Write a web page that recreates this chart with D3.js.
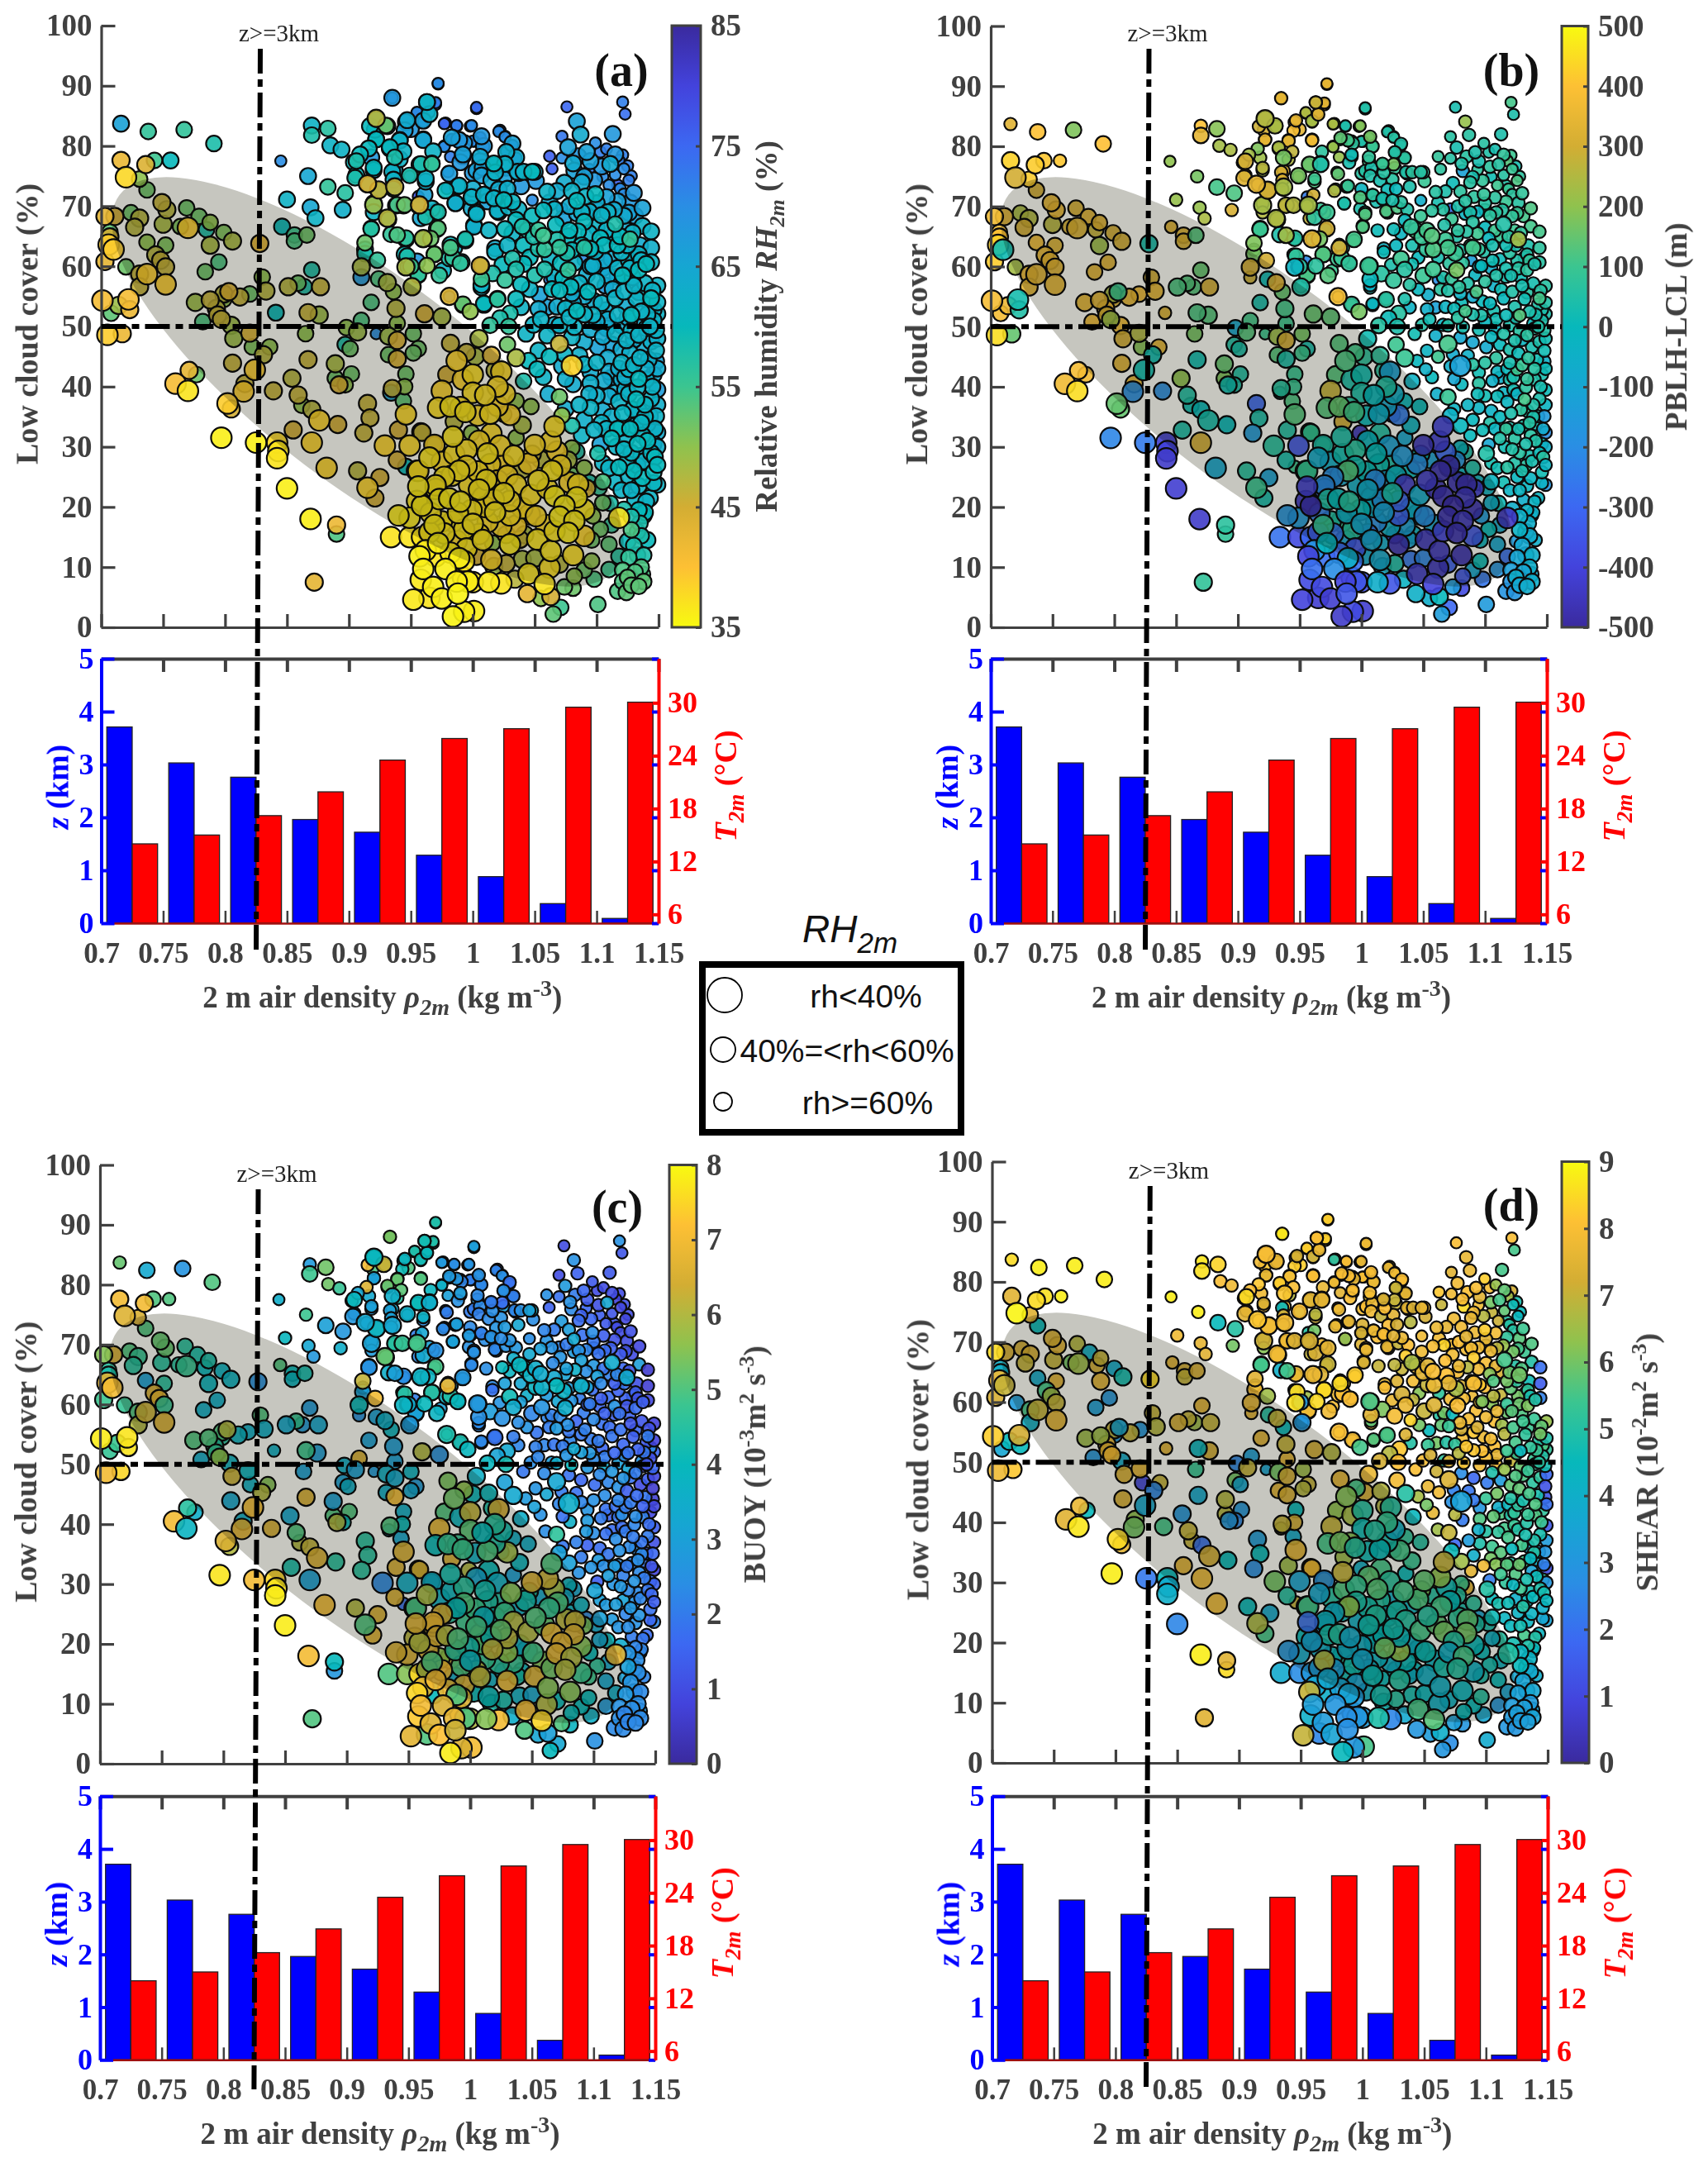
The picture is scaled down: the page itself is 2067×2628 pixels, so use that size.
<!DOCTYPE html>
<html><head><meta charset="utf-8">
<script src="https://cdn.jsdelivr.net/npm/d3@7/dist/d3.min.js"></script>
<style>body{margin:0;background:#fff}svg{display:block}</style>
</head><body><svg id="c" width="2067" height="2628"></svg>
<script>
// every row: rho2m, low cloud cover, RH, PBLH-LCL, BUOY, SHEAR
const leftCluster=[
[.716,83.7,66,330,5.2,8.5],[.738,82.4,56,400,3.3,8.8],[.767,82.7,56,180,2.6,8.8],[.791,80.4,58,400,5,8.8],[.716,77.6,42,430,7,7.5],[.736,76.9,44,420,7,8.5],[.743,77.6,55,410,5,8.6],[.756,77.6,60,410,5,8.8],[.72,74.8,38,300,6.6,8.9],[.731,74.5,50,420,6.5,7.5],[.737,72.7,52,300,5,4.5],[.749,70.6,46,340,5.2,7.3],[.753,69.4,47,350,5.2,7.5],[.724,68.9,52,240,5,7.2],[.703,68.3,43,370,5.5,8.5],[.711,68.3,45,330,6.5,7.3],[.731,68,47,250,4.7,7.3],[.727,66.5,47,300,4.5,7],[.769,69.7,52,310,4.5,6.8],[.779,68.3,52,330,4.3,4],[.788,67.3,50,330,4.3,7],[.75,67,48,260,4.5,7],[.764,66.6,51,310,4.5,6],[.77,66.4,39,320,4.7,6.5],[.785,66.1,58,280,3.9,7.2],[.799,65.6,51,300,3.7,3.8],[.806,64.2,48,300,3.7,4.7],[.707,65.7,53,370,4.5,4],[.707,64.9,45,400,4.3,4],[.706,63.6,39,430,6.7,8],[.71,62.8,39,20,7,7],[.703,60.8,43,420,4.8,7.3],[.737,64,50,370,3,3.8],[.752,63.5,51,320,4.5,7.5],[.788,63.5,48,220,3.8,7.5],[.744,61.9,47,350,6.5,5.5],[.748,61,46,350,6.8,6.5],[.72,59.9,52,230,4.7,3.2],[.752,59.9,46,330,4.7,7],[.731,58.7,46,360,5,5.5],[.737,58.7,39,330,6.3,7],[.784,59.1,52,330,3.5,3.3],[.795,60.7,54,330,3.5,3],[.731,56.6,46,340,6,4],[.752,57,39,340,6.5,7.5],[.701,54.3,41,380,7.8,8.3],[.722,54.5,41,30,7.7,7.2],[.714,53.5,49,360,4.8,4.5],[.708,52.2,53,380,4.7,3.6],[.723,52.8,42,50,7.7,4.5],[.776,54,49,340,5,6.5],[.788,54.4,46,330,5,6.5],[.799,55.4,47,240,5,7],[.803,55.8,44,100,6,3.5],[.799,54.5,50,320,4.5,3],[.812,54.9,46,350,3.7,7],[.82,55.4,52,360,3.5,3],[.833,55.9,47,340,3.5,6.8],[.83,58.2,50,300,5,7],[.828,63.8,43,30,2.5,8.5],[.793,53,47,360,4.5,8],[.794,51.9,46,310,4.7,7.5],[.782,50.8,54,370,3.4,3],[.797,51.2,46,220,5.6,8],[.805,50.2,49,370,3.7,3.8],[.705,48.6,39,450,7,7.8],[.717,48.8,42,150,7.5,8.2],[.82,48.9,44,250,3.8,7.5],[.807,48,49,300,6.3,7.3],[.822,46.6,51,190,3.6,1],[.836,46.6,50,340,5.5,7],[.831,45.3,47,20,6,2.5],[.806,43.9,46,330,3.2,7.3],[.824,42.8,39,20,7,3.6],[.771,42.7,43,380,4.5,7.7],[.777,42,52,370,3.5,4.5],[.76,40.5,41,370,7,7.5],[.77,39.3,37,450,3.8,8.7],[.816,40.5,46,350,3.5,6.3],[.815,39.2,39,-200,6.7,6],[.802,37.2,39,150,6.5,8.5],[.805,36.3,45,150,6,7.5],[.797,31.5,36,-220,7.7,8.8],[.825,30.7,36,-250,7,2.2],[.842,30.7,38,-420,7.5,4.5],[.843,29.3,37,-400,7.7,3.8],[.842,28.1,37,-430,7.8,4],[.85,23.1,36,-420,7.8,2.5],[.869,18,36,-430,7,8.8],[.89,17,42,70,4,7.5],[.89,15.5,54,80,2.7,8.5],[.872,7.5,43,80,5,7.5],[.934,15,37,-270,5,3.8]];
const ellipseMiddle=[
[.845,77.5,70,200,3.5,8.8],[.867,75,65,170,4.8,8.8],[.883,73.2,56,110,3,4.5],[.85,71.1,62,210,3.9,7.8],[.846,66.6,60,330,5,7.5],[.856,65.2,55,320,4,7.2],[.866,65.2,52,130,4.2,7.3],[.856,64.2,54,310,3.8,7],[.869,69.8,65,210,3.2,7.6],[.873,68,62,240,2.7,7.5],[.87,59.4,58,150,2.8,7.5],[.851,56.6,47,120,3.3,7.2],[.859,57.2,52,130,4.7,7],[.864,56.6,58,130,2.8,6.5],[.877,56.6,46,300,3.2,7],[.841,52.3,60,320,3.6,7.5],[.867,52.3,46,120,4.8,4.3],[.876,51.9,49,130,2.9,7.2],[.865,48.8,50,170,3,5.3],[.897,47,58,50,3,6],[.901,46.3,52,40,3.5,3.6],[.867,44.5,46,20,6.5,3.7],[.889,43.8,48,150,3,6.8],[.854,41.4,47,200,3.2,3],[.839,39.3,46,-200,6.5,5.5],[.859,38.6,46,50,5,7],[.889,41.4,52,180,5,6.8],[.897,40.3,50,40,4,2.5],[.902,42.1,52,50,5,3],[.892,40.3,44,20,6,3],[.862,36.9,50,20,6,7],[.87,36.2,47,0,6.2,2],[.876,34.4,38.5,30,6.5,7.2],[.855,32.8,45,40,4.3,7.5],[.891,33.7,45,0,4.5,4.5],[.87,30.7,38.5,300,3,7.7],[.882,26.5,38.5,-100,7,7.8],[.907,26,47,60,6,4.5],[.915,23.2,38.5,90,5,6.7],[.925,24.9,45,-120,6.5,3.7],[.921,21.5,45,30,6.6,5.5],[.915,37.2,46,-300,4.5,3.2],[.917,34.8,46,40,4.5,4.5],[.912,32.3,46,-150,4.5,2.7],[.935,39.7,46,60,5,7],[.934,39,66,30,3,6.5],[.946,42.1,52,90,3.5,4.5],[.945,40,50,90,4,7.2],[.944,37.6,53,120,3.2,3.8],[.946,35.4,38,130,6.5,7.5],[.94,32.8,45,50,6.5,6.5],[.929,30.2,38.5,60,2.3,6],[.949,30.2,38,-350,3.5,3.5],[.958,32.5,47,30,6,7.5],[.939,27.8,45,30,6.5,5],[.969,30.4,52,130,3.5,7.3],[.946,26.7,60,100,1.8,7],[.955,26,37.5,80,3.5,8],[.959,32.4,46,90,6.5,7.8],[.972,36.5,37.5,130,4,5.5]];
const upperMiddle=[
[.935,88,71,330,5,8.6],[.972,90.3,72,350,3.8,7.8],[1.003,86.2,80,50,3,7.8],[.963,87.3,62,320,4,8.3],[.97,86.9,74,350,3.8,8.5],[.955,85.5,77,300,3.5,8],[.965,85.3,62,320,4,7.7],[.96,84,72,250,3,4.6],[.87,83.4,62,400,2.8,8.7],[.883,82.9,57,190,5.3,8.4],[.87,81.8,58,340,4.8,8.6],[.885,80.1,62,230,5.3,8],[.894,79.4,62,240,4.7,7.8],[.922,84.5,59,260,3.2,7.5],[.917,83.3,60,290,7,7.8],[.931,83.3,61,230,6.5,8],[.946,84,66,350,4.5,8.5],[.922,81.1,62,340,3,7],[.941,81,65,330,5.2,6.3],[.96,81,65,360,5,8],[.977,83.7,75,240,2.8,5],[.987,83.3,74,150,2.2,7.7],[.998,83.3,75,110,2.3,7.3],[.983,81.1,77,200,2,7.5],[.992,80.9,72,180,2.5,8.2],[1.006,81.4,74,120,2.4,7.5],[1.021,82.4,70,50,2.2,7.5],[1.026,81.5,70,60,2.5,7.8],[1.032,80.1,72,50,2,8],[.977,79.9,70,210,3.5,7.7],[1.001,80.8,72,130,3,7.8],[1.009,79.9,72,110,2.8,7.8],[1.027,79,63,60,2.5,7],[.982,78.2,72,210,3,7.5],[.992,78.3,68,130,4.5,8],[1.035,78,73,70,3,7.5],[.904,77.3,60,270,4.7,7.5],[.918,78.1,68,220,3.3,7.8],[.933,79.6,66,240,3.3,8],[.941,77.8,62,250,4.5,6.8],[.957,76.9,64,250,4.7,6.5],[.967,77.1,58,30,4,7.7],[1.006,77.5,68,110,2.7,8.4],[1.017,76.9,68,100,2.5,7.5],[1.027,76.4,66,80,3,7],[1.037,75.5,65,70,2.4,7.2],[1.05,75.7,62,60,3.8,8],[.92,76,62,230,2.8,8],[.935,75.7,62,300,3,4.5],[.949,75,72,280,2.8,5.5],[.981,75.4,67,150,2,7.7],[.905,74.7,58,330,2.7,7.5],[.916,73.6,60,320,2.8,8],[.936,74.4,62,320,3,7.5],[.962,74.1,63,120,2.4,7.3],[.979,72.9,75,130,2.3,7.5],[.988,73.3,66,190,2.5,7.5],[.924,72.6,56,270,4.8,6.7],[.936,72.9,60,290,3.3,7.5],[.897,72.2,57,120,2.7,5],[.961,71.9,66,300,3.2,6],[.999,71.5,62,130,2.8,7.2],[1.009,71.9,66,90,2.2,8],[1.018,71.2,65,70,3,7.7],[.92,70.5,62,290,3,7.5],[.938,70.1,67,350,4.3,7.5],[.944,70.1,67,300,4.5,7.7],[.956,70.1,62,310,4.5,7],[.986,70.5,66,120,3,5],[1.02,69.2,62,130,2.2,7.5],[1.029,69.8,62,120,2.5,7],[.895,69.4,63,310,3.5,6],[.92,69,62,250,2.8,6.2],[.97,69,64,230,2.5,7.5],[1.003,68.7,62,130,2.5,7.7],[.958,68,65,280,2.3,7],[.932,67.8,57,280,4.8,8],[1.001,66.6,63,130,2.3,7.3],[.971,66.2,63,70,4.6,7.8],[.918,66.2,57,100,2.5,5.5],[.939,65.2,54,230,3,5.5],[.946,64.5,62,80,2.8,8.5],[.96,64.5,63,70,4.5,8],[.994,64.3,61,130,2.5,8],[.913,62.8,60,170,3,6],[.982,63.1,54,320,7,8.5],[.913,62.1,58,170,3,8],[.947,61.7,58,80,4.5,8.5],[.969,62,52,130,4.5,8.5],[.984,61.4,56,90,4.4,8],[.99,60.5,56,80,4,8],[1.018,62.4,62,10,1.8,8],[1.006,60.1,45,90,2.7,5.5],[.946,59.9,48,-30,3.8,8.6],[.95,60,55,70,3.5,3],[.963,60.1,50,70,4,8.5],[.976,59.3,62,100,3,8],[.956,58.5,58,70,3.5,7],[.91,59.9,48,300,4,7.6],[.923,61,56,300,7,6.5],[.91,58.2,68,290,2.5,7.5],[.924,57.9,54,10,3,5],[.931,57.3,48,330,3.5,7],[.951,56.6,47,50,2.8,3],[1.007,56.5,62,30,2.3,8],[1.007,57.9,55,0,2.5,7.5],[.936,55.8,50,150,3.8,4.5],[.981,55,72,400,4.3,8.5],[.918,54,54,30,3,7.5],[.992,53.6,60,150,2,7.5],[1.009,53.6,62,40,3,7],[1.02,54.5,56,70,1.8,5.5],[.938,53,47,110,2.9,7],[.961,52.1,45,150,6,7.2],[.91,51,54,110,6.5,3.3],[.939,50.5,50,100,3,7.5],[.975,51.6,48,140,2.5,6.8],[.898,49.8,50,-100,3.5,2.5],[.907,49.1,49,130,3,7],[.922,48.8,70,100,2.8,3.5],[.932,48.4,49,220,3.6,6],[.939,47.7,44,300,3.3,7.2],[.952,48.8,52,170,3.7,6.5],[.956,46.3,52,30,2.8,7],[.932,45.3,52,130,3.5,7.5],[.939,44.6,44,40,7,7.3],[.952,45.6,52,100,3.2,6.8]];
const upperRight=[
[1.076,86.5,75,30,1,8],[1.121,87.3,72,110,2.5,8],[1.123,85.3,74,40,1.2,5.5],[1.084,84.1,66,210,2.5,7.7],[1.113,82,68,40,1.3,5.5],[1.072,81.6,73,60,1,7.5],[1.087,81.9,64,60,1.5,7.7],[1.077,79.8,66,30,2.8,7.8],[1.099,80.5,70,60,1.3,8.3],[1.103,79,72,50,1,7.9],[1.062,78.3,76,80,2.5,8.2],[1.072,78,70,60,1.8,7.8],[1.085,78.3,68,60,2,8.1],[1.081,77.1,64,50,2.5,8],[1.111,77,64,60,3.2,5.5],[1.121,78.5,72,100,1,7.2],[1.125,76.7,72,30,1.1,4.8],[1.064,76.2,76,70,1.5,7],[1.082,75.9,66,-120,2.3,8.5],[1.094,76.1,72,70,1.6,7.8],[1.128,75,72,70,1,4.5],[1.105,74.9,70,20,1.4,7],[1.117,73.5,76,50,1.2,5],[1.074,73.9,64,10,2.8,7.8],[1.051,74.2,68,90,2.4,7.2],[1.035,78.1,64,70,2,7.5],[1.032,80.4,66,50,1.8,8],[1.026,81.6,72,60,1.8,7.5],[1.022,82.6,74,60,1.7,7.9],[1.027,79.1,72,-10,2.1,7.6],[1.026,77,62,170,1.7,7],[1.017,77.1,60,90,2,7.2],[1.006,78.2,64,80,2.3,7.9],[1.009,80,68,90,2.2,7.7],[.999,83.4,70,190,2.6,7.6],[.987,83.4,72,30,2.4,8],[.978,83.8,76,210,2.3,7.6],[1.003,86.4,74,50,2.9,7.8],[1,80.8,70,40,2,8],[.993,80.5,68,70,2.2,7.6],[.989,81,68,110,2.7,8],[.983,81.4,66,140,2.8,8],[1.007,81.6,68,170,2.5,8],[.992,78.6,66,10,2.8,8],[.99,77.3,68,30,2.5,8],[.98,75.7,70,80,3,8],[.967,77,56,50,3.5,7.5],[.958,77,58,150,4,7.6],[.977,80,72,220,4.3,8],[.968,79.1,62,70,3.9,7.7],[.962,74.6,62,100,3.7,6.8],[.949,75.1,58,170,3.6,8],[1.003,75.9,66,60,2,8],[1.008,76.4,66,40,2.3,7.7],[1,75.5,68,60,2,7.8],[1.007,75.1,66,50,2.1,7.8],[1.018,75.6,62,60,2.4,8],[1.015,74.3,64,30,2.3,7],[1.025,74.5,66,60,2.5,7.5],[1.036,75.7,63,50,2.2,7.5],[1.041,75.7,62,70,2.5,7.3],[1.048,75.7,60,60,3,7.6],[1.021,72.8,64,10,2.6,8],[1.028,72.9,63,0,2.8,7.2],[1.039,73.3,68,40,3.2,6.8],[1,72.9,64,-20,2.3,7.3],[.989,73.4,62,80,3,7.5],[.978,72.6,60,250,2.3,7.7],[1.009,71.9,62,70,2.1,7.7],[1,71.6,66,10,2.4,7],[.986,70.5,63,30,3,6.5],[1.06,72.4,62,60,2.2,7.7],[1.048,71,70,-60,2.4,7.8],[1.017,71.3,62,30,2.5,8],[1.025,71,60,40,2.4,7.5],[1.032,70.7,61,60,2.6,7.7],[1.037,69.5,62,50,2.7,8],[1.021,69,66,0,2.7,7.6],[1.012,70.8,66,30,2.4,8],[1.003,69,63,60,2.4,7.5],[.999,69.6,64,40,2.5,7.4],[1.035,67.7,60,-10,3.5,8.3],[1.001,66.8,65,40,2.2,7],[1.048,68.4,60,90,3.3,7.8],[1.057,69.3,60,70,3,8],[1.066,69.5,62,60,2.5,8.4],[1.072,69.6,78,-280,2.2,8],[1.062,70.6,64,30,2.6,7.8],[1.026,66.2,60,10,4,6.9],[1.032,65.5,62,-20,3.8,7],[1.044,66,58,120,4,7.9],[1.053,66,56,110,3.5,7.4],[1.057,65.1,55,130,3.4,8],[1.067,66.9,60,50,2.3,8.1],[1.073,67.9,66,90,2.6,7.8],[1.08,72.5,62,70,2.9,7.8],[1.091,71.6,62,70,1.8,7.7],[1.099,72,60,80,2.4,8.3],[1.084,70.9,60,60,3.3,7.5],[1.094,69.1,63,-20,2.2,7.8],[1.084,68.8,65,-30,2.8,7.9],[1.09,67.4,60,60,3,8.3],[1.1,66.5,62,0,2.7,7.9],[1.085,65.8,60,60,3.6,6.8],[1.115,67,58,50,3.4,5.5],[1.103,64.7,60,-10,3,6.2],[1.127,64.5,56,230,3.4,6],[1.137,66.7,62,110,2.9,5],[1.144,65.8,62,110,.6,2],[1.144,63.1,63,70,.7,1.5],[1.07,63.1,56,110,4,7.5],[1.09,63.1,57,110,3.6,7.9],[1.076,62.2,58,90,3.7,6.6],[1.053,62.9,58,80,3.8,7],[1.041,63.5,60,30,3.2,7.9],[1.046,61.5,60,0,3.5,6.2],[1.062,61.5,62,30,2.8,5.2],[1.032,61.3,58,100,4.1,7.2],[1.018,63,64,-40,2.3,7.5],[1.106,63.5,60,30,2.3,5.6],[1.117,63.5,60,20,1.4,6],[1.132,61.5,63,-30,2,5.3],[1.097,60.1,63,0,2,6.1],[1.117,59.7,62,30,2.6,5.3],[1.134,59.4,60,70,1.7,6.1],[1.105,59.7,68,-60,1.6,6.2],[1.089,61,70,-130,2,7.7],[1.073,58,60,80,2.3,4.5],[1.05,58.5,58,90,2.2,7],[1.026,57.7,56,80,2.5,7.9],[1.007,60.1,52,130,2.9,7.6],[.994,64.5,58,110,2.7,8.3],[1.077,59.4,56,170,3.5,8],[1.062,57.8,72,-200,2.2,5],[1.064,56.2,60,70,2,5.8],[1.079,56.6,60,70,2.5,7.7],[1.093,55.8,60,120,2.1,7.3],[1.107,56.8,68,-50,1.8,8],[1.117,58.3,64,30,1.4,5.9],[1.134,55.7,62,60,1.6,5.4],[1.144,54.7,60,110,2,6],[1.149,56.8,62,60,.8,6.4],[1.149,52.1,62,40,1.6,5.2],[1.128,51.9,60,130,1.8,4.4],[1.117,51.9,62,10,1.6,5.4],[1.104,53.9,62,0,2,7.9],[1.097,51.9,62,40,2.7,8.1],[1.084,52.6,60,110,3.3,8.2],[1.075,53,62,10,2,5.2],[1.06,53.2,66,-120,2.2,6],[1.054,55.3,66,-60,1.9,4.5],[1.039,57,60,60,2.4,8.4],[1.035,54.6,60,40,2,7.4],[1.039,53.2,62,-40,2.2,5],[1.02,54.6,60,-10,2.6,6.4],[1.009,53.8,60,-20,2.2,5.6],[1.007,56.9,62,-50,2.3,5.7],[.998,52.5,50,170,3.9,5.5],[.992,53.7,52,80,4.3,7.9],[.981,55,44,370,4.3,8],[.973,58.5,56,130,3.8,7.8],[.991,60.7,60,90,2.6,8],[.981,61.3,58,100,3.7,7.9],[.955,60.8,68,-210,2.1,6.5],[.948,59.9,62,10,2.7,8.1],[.956,58.6,56,120,3,7.9],[.951,56.7,60,80,3,3.5],[.945,62,60,50,3.2,6.2],[.969,62,56,70,2.9,8.3],[.985,63.1,62,40,3,8.4],[.982,63.6,60,10,2.8,7.7],[.946,64.7,56,60,2.4,7.6],[.934,65.3,56,40,3.5,4],[.96,64.6,48,340,3.7,7.7],[.966,64.6,52,170,3.8,7.4],[.913,63.9,52,180,6.2,7.5],[.918,66.3,58,60,2.9,5.2],[.931,68,47,240,5.2,7.8],[.972,66.3,53,300,4.9,7],[.962,68.2,58,70,3.3,7.2],[.957,70.2,44,230,4.9,7.2],[.956,71.6,78,-250,2.1,5],[.967,69.6,62,90,3.1,7.7],[.972,69,58,90,2.5,7.5],[.945,70.2,52,250,4.7,7.3],[.939,70.2,54,260,4.5,7.8],[.92,70.2,49,230,3.1,7.1],[.924,72.7,46,300,3.7,8],[.937,73.2,46,230,3.2,7.8],[.915,73.7,44,340,3.3,8.2],[.922,84.6,47,250,4,8],[.93,83.4,52,240,6.2,7.6],[.935,88,68,340,5.4,8.7],[.972,90.4,70,340,4.4,8.3],[.955,85.6,70,240,4.4,8.3],[.963,87.3,62,280,4.2,8],[.97,87.2,72,330,4.4,8.3],[.965,85.6,70,360,4.4,8],[.96,84.2,66,230,4.2,7.5],[.947,84.3,64,340,3.8,7.2],[.945,82.6,66,380,4.1,8.3],[.95,82.8,68,340,5,8.3],[.96,81.1,68,420,5.2,8],[.941,80.9,62,330,5.2,8.1],[.921,82.7,62,300,5,8.2],[.922,81.1,60,340,3,7.7],[.933,79.8,60,240,5.3,8.3],[.944,79.1,62,270,5.1,8],[.937,78.1,58,170,3.5,8.2],[.916,79.6,60,180,6.6,8.2],[.909,78.6,60,230,3.2,8.1],[.92,76.4,60,260,3,7.3],[.906,77.5,58,300,3.9,8.5],[.937,75.9,64,350,3.4,8.1],[.906,75.2,60,200,3.1,8]];
const lowerMiddle=[
[.979,42,45,130,5,6.3],[1,42,37.5,20,6.2,5],[1.023,42.5,38,-120,6.4,5],[1,39,37.5,40,5.1,4.6],[1.026,38.8,38,-60,4.2,4],[.975,39.3,38.5,280,6.7,7],[.982,36.7,37,150,4.7,6],[.994,35.8,37,110,4.8,5],[1.014,35.5,37.5,-60,5,4.5],[1.025,35.4,52,-350,2.8,3.3],[1.047,36.7,50,0,3.5,5],[.985,34.2,47,300,6.5,6.5],[.999,32.3,50,-450,6,4],[1.015,32.2,38,50,4,5.5],[.984,31.7,37,40,4.2,7],[1.066,33.4,37.5,-400,5,7],[1.063,30.9,38,-420,6.3,6.3],[1.05,30.3,38,-450,6.5,5.8],[1.035,31.5,50,-100,3,4.5],[1.033,28.5,37.5,-150,5.5,5.5],[1.012,28.9,37,0,4.2,5.7],[1.014,27.1,38,20,4.4,5],[.989,26,37,130,4,6.3],[.956,26,37.5,90,5,5.3],[.969,30.3,38.5,40,3.5,2.8],[.977,25,37,-200,6.5,4],[1.011,24.5,37,-200,3.8,5],[.997,23.7,37.5,-60,4.8,4],[1.064,26,37,-470,4.7,5.5],[1.071,26.9,38,-480,5,4.5],[1.053,24.4,37,-430,5,5],[1.035,23.7,37.5,-430,6,5],[1.025,22.3,37,40,5.2,4.7],[1.066,21.8,36.5,-470,6.8,6],[1.084,21.6,36.5,-450,6.5,6],[1.074,20.2,36.5,-480,6.7,5],[1.09,19.6,37,-470,5.5,4.5],[1.07,18.4,36.5,-470,6.7,4],[1.082,17.7,36.5,-450,6,5.5],[1.077,15.7,36.5,-470,6,5],[.973,21.3,36.5,50,6.5,4.8],[.981,21.4,36.5,0,6,5],[.999,19.5,37,0,4.2,4],[1.018,19.1,37,-120,6.2,6],[1.023,16.8,38,-50,4.5,4],[1.012,17.5,38,-200,4.7,4.2],[.949,18.2,36.5,-150,6.5,3.8],[.94,18.6,36.5,-180,6.5,3],[.959,20.2,36.5,-470,6,3.5],[.956,23.4,36.5,-420,6.6,2],[.969,17,36.5,90,5,6.8],[.984,17.6,37,90,6.5,5],[.993,16.3,37,60,5,4.7],[.949,15,37,-380,5.5,2.7],[.959,15,37,-300,7.5,3],[.972,14,36,-10,7,3.7],[.989,11.5,36,-50,5,3.5],[.957,11.8,36,-400,7.5,7],[.97,11.8,37,-280,4,4],[.96,9.7,36,-280,7,3.3],[.978,9.7,36,-200,6.5,3],[.995,13.1,37,-350,6.5,3.5],[1.003,11.8,45,-80,4,4],[.992,8.3,37,-330,7,2.5],[.996,7.6,36,-350,5,3],[.988,5.6,35.5,-350,6.3,2.8],[.987,7.6,36,-400,6.8,2.8],[.968,6.7,36,-380,6.6,3.2],[.965,4.9,37,-420,5,2.5],[.952,4.6,36.5,-400,6.7,7],[.984,1.8,35.5,-430,7.8,4.5],[1.001,2.7,36,-420,7,5.5],[.993,2.6,36,-380,6.5,3],[1.03,13.8,36.5,-470,6.8,5],[1.052,14.6,37,-450,6.5,4],[1.063,12.7,37,-450,5.5,4],[1.081,12,37.5,-470,5.5,4.3],[1.062,9.9,37.5,-450,6,4],[1.045,8.9,37,-430,7,5.5],[1.058,7.2,37,-400,7.5,5.7],[1.023,7.3,37,-350,7,2.5],[1.044,5.6,43,-50,5,3],[1.063,5.1,45,0,3,4],[1.065,2.2,53,-140,4,3],[1.071,3.3,55,-300,3.2,2.7],[1.101,3.8,54,-150,2.5,3.8],[1.081,6.5,52,-380,3.8,3],[1.074,6.7,52,-150,5,3.3],[1.082,8.5,50,-350,4,4.5],[1.118,18.2,37,-440,6.7,5],[1.103,16.3,52,0,4.6,4.7],[1.096,14.5,52,-20,4.8,4.8],[1.11,13.8,53,-100,3.2,4.5],[1.096,11,50,10,4,5],[1.09,9.5,52,-100,4,4.5],[1.118,11.8,57,-280,3.5,3.5],[1.042,15.4,48,-40,3.8,4.5],[1.016,14,50,-70,3.6,4.5],[1.027,10.6,46,40,4.2,5],[1.017,10.1,49,-70,4.3,4.6],[1.04,11.3,48,-260,3.6,4.7],[.975,27.5,38,-60,3.6,5],[.983,25.2,37.5,-100,4.5,4.4],[1.004,25.9,37.5,10,4.8,4.8],[1.025,27,38.5,40,4.4,4],[1.04,26.2,47,0,3.5,4.2],[1.055,27.9,47,-120,3.3,5],[1.047,22,37.5,-80,6,5.5],[1.02,24.4,38,-100,4.2,4.3],[1.008,21.6,37.5,-50,5.7,4.7],[.99,20.9,36.5,60,5,3.8],[1.059,17,38,-100,5.5,4.2],[1.03,18.6,37.5,-320,5.6,6.4],[1.04,19.8,38,-60,3.6,4.1],[1.005,15.5,37.5,-260,6.1,4],[.987,14.4,38,-120,3.4,4.6],[1.072,35.2,50,-40,3,4.6],[1.04,33.6,48,-40,3.8,5.3],[1.03,35.3,38.5,-250,5.8,5.5],[1.048,28.8,46,0,4.5,6.2],[1.01,38.6,37.5,-10,4,5],[.992,41.2,38.5,40,3.8,6.6],[1.02,40,38,50,4.5,5.3],[1.041,40.9,58,-40,3.5,4.4],[1.035,44.8,48,90,3.3,5],[1.015,45.2,44,70,3.9,6.8],[.995,45.7,46,110,5.6,5.5],[.982,47.2,46,130,5.4,7.6],[1.005,48,48,20,3.6,7.7],[1.028,47,52,100,3,7.9],[1.045,44.3,60,-10,2.8,6.6]];
const lowerFill=[
[.965,28.2,37,-80,5.9,3.6],[.97,23,37,-300,6.4,3.2],[.985,28.8,37.5,20,3.8,5.6],[.995,29.5,37.5,60,4.5,5.3],[1.005,31,38,-20,3.2,5.8],[1.022,30.2,38,-120,3.6,5.1],[1.028,25.2,38,-30,4.8,4.8],[1.045,27.2,38.5,-200,4.2,5.6],[1.06,23.1,37.5,-460,5.2,5.8],[1.078,24.1,38.5,-470,6.1,5.2],[1.068,29.2,38.5,-300,5.8,4.6],[1.08,29.8,50,-20,3.8,5.4],[.99,36.6,37.5,60,4.7,6.2],[1.004,35.2,38,0,3.6,4.6],[1.02,36.8,38.5,-100,4.4,4.8],[1.035,37.6,50,-10,3.5,5.2],[1.002,45,48,70,3.9,7.3],[1.018,42.7,47,60,4.3,6.8],[.987,44.3,38.5,120,5.3,6.2],[.97,23.6,37,-200,6.9,4.2],[.962,12.8,36.5,-180,6.6,3.6],[.975,17.6,37,50,5.6,4.4],[.988,19,37,-60,4.5,3.9],[1,17.2,37,-100,3.8,3.7],[1.01,20,37.5,-50,5.1,4.3],[1.03,21,37.5,-300,6.1,4.4],[1.051,18.5,38,-200,4.9,4.6],[1.066,16,37,-400,5.3,4.8],[1.09,15.2,38.5,-350,4.8,4.1],[1.085,23.8,37.5,-470,6.2,5.8],[1.097,18.5,50,-150,4,4.5],[1.105,20.7,52,-60,3.2,4],[1.015,11.2,38.5,-90,4,4.7],[1.034,8,47,-30,3.5,3.7],[1.05,11.5,48,-220,3.2,4.4],[1.07,10.5,47,-320,4,4.1],[1.055,4.8,50,-60,3.2,3.2],[1.046,18.8,38.5,-40,3.7,3.8],[1.038,14.6,46,-110,4.3,4],[1.027,15.4,45,-360,3.5,4.3],[1.013,7.5,36.5,-60,5.5,4.9],[1.008,14.5,37,-100,6.1,4.6],[.977,15.6,37,-260,7,3.3],[.982,12.4,36.5,-300,6.9,3.4],[.993,11,37,-280,6.5,3.1],[1,7.5,37,-360,6,3.2],[.975,4.8,36,-420,7.2,3.5],[.958,7.9,36.5,-380,7.3,4],[.965,15.8,37,-330,5.9,3.2],[.955,21,37,-440,6.1,4.5],[.966,19,37,-240,6.5,3.9],[.995,26.8,37.5,20,5,4.9],[1.005,22.9,37,-70,4.9,4.7],[1.017,21.2,37.5,-170,4.1,4.5],[1.035,16.9,38.5,-130,4.7,4.5],[1.077,27.8,48,-180,3.4,5],[1.092,23.1,44,-420,5.4,4.9],[1.105,24.2,54,-20,3,4.6],[1.112,17,56,-90,3.3,4.2],[1.098,8,54,-260,3.6,3.6]];
const farRight=[
[1.08,43.5,38.5,-120,3.5,3.4],[1.149,23.7,62,-170,2.2,3.5],[1.137,24.8,60,-20,2.6,4.2],[1.137,31.9,61,60,2.3,3.5],[1.136,28.5,62,30,2.3,4.7],[1.117,33,60,80,2.8,5.7],[1.134,41.3,60,80,2.4,5.3],[1.115,39,64,-30,1.7,5.5],[1.132,37.9,60,110,2,4.8],[1.121,35.6,61,40,2.5,4.5],[1.147,28.3,60,60,1.6,4.7],[1.149,32.4,64,-200,.8,1.2],[1.143,35.1,62,50,1,4],[1.148,35.1,62,-150,1.6,3],[1.124,27.3,61,50,3.1,4],[1.115,24.1,62,20,2.8,4.3],[1.126,25,62,-10,2.2,4.2],[1.133,26.9,62,60,2.5,4.5],[1.126,42.9,62,100,2,5.1],[1.109,44.8,64,70,2.4,6],[1.11,42.5,64,-20,1.8,3.9],[1.095,40.6,63,60,2.8,5.6],[1.081,40.4,64,-10,3.6,2.2],[1.075,36.3,64,-30,1.9,1.8],[1.095,36.5,62,-30,1.5,4.9],[1.105,36,64,-40,1.7,5.4],[1.134,36,62,60,2.4,3.8],[1.104,34,62,50,2.8,6],[1.088,31.9,62,0,2.5,7.5],[1.084,29.2,58,40,3.2,7.7],[1.105,27.3,62,30,3,4.5],[1.103,30.4,66,-100,1.4,2.3],[1.101,28.9,58,50,3.1,5],[1.094,24.1,58,-30,2.3,3.5],[1.075,41.3,63,-100,1.8,6.8],[1.061,38.8,64,-60,2.4,6.5],[1.07,38.3,52,90,4.6,7],[1.052,42.9,60,-50,3,6],[1.057,41.6,62,0,2.5,7.6],[1.149,39.5,67,10,1.4,1.4],[1.146,42,64,30,.9,5.2],[1.142,44.5,63,20,1.9,4.8],[1.148,46,62,20,.6,1.3],[1.138,46.6,64,30,1,5.1],[1.13,47.8,64,-20,1.8,5.6],[1.12,46.2,64,40,2.5,5.8],[1.112,47,66,0,2.2,3.2],[1.101,46.6,66,-80,1.7,2.2],[1.09,47.4,64,-100,1.6,1.8],[1.08,48.2,62,-90,1.8,2.7],[1.07,47.1,46,110,3.2,7.4],[1.06,48.5,62,-60,2.3,7.1],[1.053,46,62,-30,2.6,7.7],[1.043,48.8,62,20,1.9,8],[1.062,45,60,100,3.2,7.8],[1.072,43.4,64,-60,2.2,2.8],[1.09,43.7,62,60,2.2,2.2],[1.1,44,62,60,2.5,5.3],[1.12,44,62,30,2.2,5],[1.13,43.6,62,90,2,4.8],[1.14,49.7,62,50,.9,5.2],[1.148,49.4,62,50,1.6,4.7],[1.146,52.8,62,40,2.3,5.6],[1.139,50.5,64,0,2.6,5.3],[1.128,49.3,62,60,3.2,5.9],[1.12,50.2,64,40,3,7],[1.108,49.7,64,-20,3.5,8],[1.095,49.5,64,20,2.7,7.8],[1.082,49.9,62,30,4,8.2],[1.07,50.2,62,50,3.5,7.6],[1.049,50.3,62,50,2.4,7.9],[1.029,50,56,40,4.2,8.1],[1.014,50.2,56,60,3.9,7.2],[1.148,44.2,66,-50,.7,1.4],[1.144,38,62,40,2,4.8],[1.141,33.8,64,30,1.9,4.2],[1.146,30.5,64,20,1.8,5.2],[1.146,25.8,60,20,1.8,4],[1.143,21.5,62,-20,1.7,4.3],[1.138,18.6,60,-70,2.6,4],[1.141,14.5,60,-60,2.2,3.9],[1.133,15.9,58,-60,3,4],[1.133,12,58,-50,3,3.7],[1.137,8.8,54,-70,2.7,3.5],[1.138,7.6,53,-60,2.3,3.5],[1.136,10,54,-60,2.4,3.2],[1.125,14.3,60,-150,3,3.6],[1.121,9.5,54,-130,2.5,3.2],[1.11,9.6,55,-180,2.8,3],[1.117,6,54,-180,2.3,3],[1.124,5.8,53,-170,2.3,3],[1.121,7.6,54,-170,2.4,3.1],[1.125,8.3,53,-60,2.2,3.3],[1.139,19.1,60,-50,2.2,4.5],[1.131,21.2,62,-60,2,5.5],[1.14,20.9,62,-30,1.9,5],[1.135,17.3,58,-60,2.4,4.2],[1.128,16.2,54,-40,3,4.5],[1.122,19.6,58,-60,3.4,4.7],[1.111,20.6,58,10,3.9,5],[1.102,23.2,56,-40,3.3,4.8],[1.09,26.5,50,40,3.7,5.1],[1.08,25.3,52,-40,3.7,4.8],[1.07,26.4,50,0,3,4.7],[1.116,30,62,20,2.6,5.2],[1.124,31.4,62,60,2.1,5.6],[1.131,33.5,62,50,2.2,5.5],[1.108,33,62,-20,2.4,6.2],[1.098,32.8,62,10,2.6,7.8],[1.118,37.5,62,-20,2.4,5.5],[1.126,38.8,62,-30,2,5],[1.112,41.5,66,-60,1.5,5.6],[1.12,41.2,64,40,1.9,5],[1.14,41.2,63,50,2.1,5.6],[1.143,53.7,62,50,1.3,5],[1.132,54.6,62,20,1.4,5.2],[1.124,53.3,64,40,1.6,5.5],[1.115,54.7,62,0,1.9,6.8],[1.107,52.7,64,30,1.6,8],[1.098,54.2,64,0,2,7.7],[1.09,55,64,-80,1.9,8.2],[1.081,53.9,64,10,2.2,7.9],[1.139,57.2,62,30,1.2,5.3],[1.129,58.2,62,20,1.5,5.6],[1.121,58.5,60,30,1.8,5.7],[1.109,58.5,64,50,1.5,7.7],[1.1,57.5,62,70,2.3,7.8],[1.086,57.2,62,50,1.6,7.9],[1.14,60.4,60,40,1.4,5],[1.126,61,62,50,1.5,6],[1.112,61.2,64,10,1.7,7],[1.099,62.5,62,50,1.7,8],[1.082,60.6,62,70,2.6,7.9],[1.071,60.5,60,70,3.2,7.8],[1.135,63.5,64,40,1.1,4.6],[1.124,66,64,100,1.6,5],[1.113,65,62,90,2.1,7.3],[1.094,65.5,62,100,2.4,7.8],[1.077,65,60,50,3.1,8],[1.131,68.4,66,110,1,5.4],[1.122,68.4,64,80,1.3,6],[1.109,69,62,70,1.7,6.9],[1.1,69.4,64,100,2,8],[1.127,70.6,68,60,1,5.7],[1.117,70.8,66,90,1.1,5.2],[1.108,71.5,66,70,1.4,7.9],[1.13,72.2,68,80,1.1,5.4],[1.119,72.9,70,90,1,5],[1.11,73.5,70,100,1.3,7.1],[1.098,74.3,68,80,1.6,6.8],[1.088,74,64,60,1.7,7.6],[1.126,74.3,72,120,.9,4.4],[1.115,75.2,70,60,1.2,5.8],[1.122,76.2,70,90,.9,4.6],[1.104,76.6,68,70,1.1,6],[1.095,77.5,66,30,1.3,7.5],[1.118,77.6,72,130,.8,6.5]];
const denseFill=[
[1.146,24,61,-40,1.6,3.6],[1.149,27,60,-20,1.4,4.4],[1.144,29,61,10,1.9,4.9],[1.149,30,63,-50,1.5,3],[1.141,31,60,50,2,4.6],[1.147,33,62,-80,1.2,2.4],[1.139,35,61,40,2.3,5],[1.149,37,63,-20,1.1,3.2],[1.145,40,62,30,1.7,5.4],[1.149,43,64,10,.9,2],[1.144,47.5,63,40,1.4,5.2],[1.149,48,63,20,.9,1.8],[1.146,51,62,40,1.1,5],[1.141,52,62,30,1.9,5.3],[1.149,54,62,50,.8,4.9],[1.145,56,62,60,1.1,5.8],[1.134,23.5,62,-20,2.5,4.3],[1.13,26,60,40,2.7,5],[1.138,27.6,62,30,2.2,4.5],[1.128,29,61,60,2.3,5.4],[1.133,30.5,60,40,2.6,4.8],[1.127,33,60,30,2,5.9],[1.136,34,61,60,2.4,4.4],[1.129,36.2,62,70,2.3,5.5],[1.139,37,61,50,1.9,4.9],[1.123,39.5,63,20,1.7,5.3],[1.133,39.9,62,70,2.2,5],[1.14,43,63,60,1.5,5.6],[1.123,41.6,63,30,2.4,5.2],[1.135,44.8,62,70,1.7,5.5],[1.127,45.6,63,10,1.4,5.8],[1.118,43,64,0,1.8,4.4],[1.106,41,64,-50,2,5.8],[1.1,38.5,63,20,2.4,5],[1.11,38.4,64,10,1.8,5.2],[1.112,35,63,0,1.9,5.7],[1.12,33.2,62,40,2.4,5],[1.112,31.4,60,50,2.9,5.4],[1.122,29.6,61,50,2.7,4.4],[1.11,26.5,62,20,2.8,4.8],[1.118,26.6,60,60,2.9,4.6],[1.12,22.8,62,-30,2.6,4.4],[1.128,22.8,62,-20,2.4,4.7],[1.134,19.5,60,-30,2.2,4.9],[1.128,18.4,58,-50,2.6,4.3],[1.136,15.2,58,-70,2.4,3.8],[1.13,13.6,58,-90,2.6,3.5],[1.138,12,58,-60,2.3,3.6],[1.126,11.6,56,-100,2.7,3.4],[1.131,9.2,54,-100,2.4,3.3],[1.128,7,53,-90,2.2,3.2],[1.134,6.8,53,-70,2.3,3.3],[1.094,38.8,63,10,2.8,4],[1.086,37,62,-30,2.1,3.2],[1.09,34.5,63,-10,2,3.9],[1.08,33.5,58,-10,3,6.5],[1.074,45.4,62,-80,2,2.4],[1.086,45.2,63,-50,1.8,2.1],[1.095,42.4,64,20,2.6,3],[1.105,48.3,64,-10,2.3,4.9],[1.115,48.8,62,50,2.7,6.4],[1.124,47.7,62,40,2.6,5.6],[1.134,48.6,62,70,2,5.3],[1.143,50,62,50,1.2,5.1],[1.125,51.5,64,30,2.4,5.5],[1.109,51.2,64,20,2,7.6],[1.1,50.8,64,-10,2.3,8],[1.09,52,62,40,3,8.2],[1.078,51.5,62,60,2.6,6.8],[1.066,50.3,64,-20,2.9,5.2],[1.055,51.2,62,20,2.2,7.2],[1.068,53.3,64,-30,1.9,5],[1.08,55.5,64,-40,1.9,7.2],[1.07,56,60,50,2.8,5.3],[1.058,59.5,58,100,2.6,7.4],[1.066,58.2,62,40,2.1,6],[1.092,58.6,64,-20,2,7.9],[1.113,56.2,64,20,1.7,6.5],[1.122,55.8,62,50,1.8,5.5],[1.13,56.8,62,30,1.2,5.4],[1.136,52.5,62,40,1.5,5.2],[1.127,59.7,62,60,1.2,5.9],[1.134,62,62,50,1.4,5.2],[1.12,62.3,62,60,1.5,5.8],[1.106,61,64,20,1.4,6.8],[1.095,60,64,-40,1.5,7.5],[1.088,63.5,60,80,2.6,8.1],[1.08,62.7,60,50,2.8,7.3],[1.095,62.9,60,80,3.1,8.2],[1.108,66,62,100,1.9,7.6],[1.119,65,60,70,2.2,5.9],[1.129,65.6,62,80,1.2,5.6],[1.136,61,62,80,1.1,4.8],[1.125,63.5,62,30,1.9,5.2],[1.104,68.5,62,70,1.8,7.7],[1.114,69.4,64,60,1.4,6.4],[1.088,69,62,40,2.5,7.9],[1.078,70,64,40,2,8.1],[1.068,72.5,64,40,2,7.6],[1.09,74.9,66,30,1.5,7.8],[1.1,70.5,64,60,1.9,7.5],[1.078,66,60,70,3,7.7],[1.068,64.4,58,90,3.3,8.1],[1.058,62.8,56,120,3.6,7.7],[1.049,64.9,58,90,3.7,7.5],[1.04,66.6,58,80,3.9,6.6],[1.035,59.5,58,60,3.4,7.7],[1.041,60.4,60,20,3,6.9],[1.046,56.2,62,-10,2.6,6],[1.053,52.9,64,-60,2.1,5.3],[1.028,63.5,62,-10,3,7.4],[1.024,60.3,60,40,2.6,7.7],[1.016,58.8,58,60,2.9,6.1],[1.013,66,62,10,2.4,7],[1.03,52.2,58,60,3.3,8.2],[1.022,51.4,58,10,3.1,6.8],[1.144,60.7,62,60,.9,2.4],[1.126,68.9,66,90,1.1,5.5],[1.137,69.7,66,120,.9,5.6],[1.115,78.6,68,80,1,5.8],[1.122,72,70,70,1,5],[1.092,79,66,40,1.6,8],[1.108,79.5,72,30,1,6.4]];
const barCategories=[.725,.775,.825,.875,.925,.975,1.025,1.075,1.125];
const zKm=[3.71,3.03,2.76,1.96,1.72,1.285,.88,.37,.09];
const t2m=[14,15,17.2,19.9,23.5,25.95,27.06,29.5,30.07];
const rhoTicks=[.7,.75,.8,.85,.9,.95,1,1.05,1.1,1.15];
const rhoLabels=["0.7","0.75","0.8","0.85","0.9","0.95","1","1.05","1.1","1.15"];
const lccTicks=[0,10,20,30,40,50,60,70,80,90,100];
const zTicks=[0,1,2,3,4,5];
const tTicks=[6,12,18,24,30];
const parulaStops=["#3a2a9e","#4343dc","#3c68f2","#2a8ee4","#16a6d2","#07b8bb","#3bc590","#8fc24e","#d3ad33","#fdc034","#f8fa10"];
const legendEntries=[["rh<40%",21],["40%=<rh<60%",15],["rh>=60%",11]];

const panels=[
 {tag:"(a)",key:2,dom:[85,35],ticks:[35,45,55,65,75,85],x0:122.5,x1:797,y0:759,y1:31,b0:1117,b1:797,cb0:813,cb1:848,vl:[315,59,310,1153],lx:752,ly:104,scaleS:1.28,lbl:940,lfs:37},
 {tag:"(b)",key:3,dom:[-500,500],ticks:[-500,-400,-300,-200,-100,0,100,200,300,400,500],x0:1199,x1:1872,y0:759,y1:31.5,b0:1117,b1:797,cb0:1890,cb1:1922,vl:[1390.5,59,1386,1153],lx:1829,ly:104,scaleS:1,lbl:2041,lfs:37},
 {tag:"(c)",key:4,dom:[0,8],ticks:[0,1,2,3,4,5,6,7,8],x0:121,x1:793,y0:2134,y1:1409.5,b0:2492.3,b1:2173.3,cb0:810,cb1:843,vl:[312.5,1439,307.4,2528],lx:747,ly:1479,scaleS:1,lbl:926,lfs:37},
 {tag:"(d)",key:5,dom:[0,9],ticks:[0,1,2,3,4,5,6,7,8,9],x0:1200.5,x1:1873,y0:2133,y1:1405.5,b0:2492.3,b1:2173.3,cb0:1890,cb1:1923,vl:[1391.8,1435,1387,2528],lx:1829,ly:1477,scaleS:1,lbl:2006,lfs:37.5}
];
const points=[...leftCluster,...ellipseMiddle,...upperMiddle,...upperRight,...lowerMiddle,...lowerFill,...farRight,...denseFill];
const svg=d3.select("#c");
const defs=svg.append("defs");
const GREY="#404040",SER='"Liberation Serif",serif',SANS='"Liberation Sans",sans-serif';
const parula=d3.piecewise(d3.interpolateRgb,parulaStops);
function radius(rh,k){return rh<42?12.5:rh<50?10.5:rh<60?9.5:rh<70?7.6*k:6.8;}

function styleAxis(g,color,w,fs){
 g.selectAll(".domain").attr("stroke",color).attr("stroke-width",w);
 g.selectAll(".tick line").attr("stroke",color).attr("stroke-width",w);
 g.selectAll(".tick text").attr("fill",color).attr("font-family",SER).attr("font-weight","bold").attr("font-size",fs);
}
function rich(g,parts,attrs){
 const t=g.append("text").attr("font-family",SER).attr("font-weight","bold");
 Object.entries(attrs).forEach(([k,v])=>t.attr(k,v));
 let prev=0;
 parts.forEach(p=>{const s=t.append("tspan").text(p.t);
  const off=p.dy||0; if(off!==prev)s.attr("dy",off-prev); prev=off;
  if(p.i)s.attr("font-style","italic"); if(p.fs)s.attr("font-size",p.fs);});
 return t;
}
const cbTitle={2:[{t:"Relative humidity "},{t:"RH",i:1},{t:"2m",i:1,dy:9,fs:26},{t:" (%)",dy:0}],
 3:[{t:"PBLH-LCL  (m)"}],
 4:[{t:"BUOY (10"},{t:"-3",dy:-14,fs:26},{t:"m",dy:0},{t:"2",dy:-14,fs:26},{t:" s",dy:0},{t:"-3",dy:-14,fs:26},{t:")",dy:0}],
 5:[{t:"SHEAR (10"},{t:"-2",dy:-14,fs:26},{t:"m",dy:0},{t:"2",dy:-14,fs:26},{t:" s",dy:0},{t:"-3",dy:-14,fs:26},{t:")",dy:0}]};

panels.forEach((p,pi)=>{
 const g=svg.append("g").style("isolation","isolate");
 const x=d3.scaleLinear().domain([.7,1.15]).range([p.x0,p.x1]);
 const y=d3.scaleLinear().domain([0,100]).range([p.y0,p.y1]);
 const c=d3.scaleLinear().domain(p.dom).range([0,1]).clamp(true);
 const sorted=points.slice().sort((a,b)=>b[2]-a[2]);
 g.append("g").selectAll("circle").data(sorted).join("circle")
  .attr("cx",d=>x(d[0])).attr("cy",d=>y(d[1])).attr("r",d=>radius(d[2],p.scaleS))
  .attr("fill",d=>parula(c(d[p.key]))).attr("fill-opacity",.9).attr("stroke","#0c0c0c").attr("stroke-width",2.2);
 const ex=x(.7)+(445-122.5)*(p.x1-p.x0)/674.5, ey=y(0)-(759-462);
 g.append("ellipse").attr("cx",0).attr("cy",0).attr("rx",376).attr("ry",126)
  .attr("transform",`translate(${ex},${ey}) rotate(37)`).attr("fill","#c6c6bf").style("mix-blend-mode","multiply");
 const ax=g.append("g").attr("transform",`translate(0,${p.y0})`).call(d3.axisBottom(x).tickValues(rhoTicks).tickSize(-16).tickSizeOuter(0).tickFormat(""));
 styleAxis(ax,GREY,3.2,35);
 const ay=g.append("g").attr("transform",`translate(${p.x0},0)`).call(d3.axisLeft(y).tickValues(lccTicks).tickSize(-17).tickSizeOuter(0).tickPadding(11).tickFormat(d3.format("d")));
 styleAxis(ay,GREY,3.2,37);
 rich(g,[{t:"Low cloud cover (%)"}],{transform:`translate(${p.x0-77},${(p.y0+p.y1)/2-3}) rotate(-90)`,"text-anchor":"middle","font-size":38,fill:GREY});
 const gid="grad"+pi,lg=defs.append("linearGradient").attr("id",gid).attr("x1",0).attr("x2",0).attr("y1",1).attr("y2",0);
 d3.range(0,1.001,.05).forEach(t=>lg.append("stop").attr("offset",t).attr("stop-color",parula(p.dom[0]<p.dom[1]?t:1-t)));
 g.append("rect").attr("x",p.cb0).attr("width",p.cb1-p.cb0).attr("y",p.y1).attr("height",p.y0-p.y1).attr("fill",`url(#${gid})`).attr("stroke",GREY).attr("stroke-width",3);
 const cy=d3.scaleLinear().domain(pi===0?[35,85]:p.dom).range([p.y0,p.y1]);
 const ac=g.append("g").attr("transform",`translate(${p.cb1},0)`).call(d3.axisRight(cy).tickValues(p.ticks).tickSize(-6).tickSizeOuter(0).tickPadding(12).tickFormat(d=>String(d)));
 ac.select(".domain").remove();
 styleAxis(ac,GREY,3,37);
 rich(g,cbTitle[p.key],{transform:`translate(${p.lbl},${(p.y0+p.y1)/2}) rotate(-90)`,"text-anchor":"middle","font-size":p.lfs,fill:GREY});
 g.append("text").text(p.tag).attr("x",p.lx).attr("y",p.ly).attr("text-anchor","middle").attr("font-family",SER).attr("font-size",56).attr("font-weight","bold").attr("fill","#111");
 g.append("text").text("z>=3km").attr("x",p.vl[0]-26).attr("y",p.vl[1]-9).attr("font-family",SER).attr("font-size",29).attr("fill","#222");

 const yz=d3.scaleLinear().domain([0,5]).range([p.b0,p.b1]);
 const yt=d3.scaleLinear().domain([5,35]).range([p.b0,p.b1]);
 const bw=(p.x1-p.x0)/9*.41;
 g.append("g").selectAll("rect").data(barCategories).join("rect").attr("x",d=>x(d)-bw).attr("width",bw)
  .attr("y",(d,i)=>yz(zKm[i])).attr("height",(d,i)=>p.b0-yz(zKm[i])).attr("fill","#0000ff").attr("stroke","#222").attr("stroke-width",1.3);
 g.append("g").selectAll("rect").data(barCategories).join("rect").attr("x",d=>x(d)).attr("width",bw)
  .attr("y",(d,i)=>yt(t2m[i])).attr("height",(d,i)=>p.b0-yt(t2m[i])).attr("fill","#ff0000").attr("stroke","#222").attr("stroke-width",1.3);
 const bb=g.append("g").attr("transform",`translate(0,${p.b0})`).call(d3.axisBottom(x).tickValues(rhoTicks).tickSize(-15).tickSizeOuter(0).tickPadding(23).tickFormat((d,i)=>rhoLabels[i]));
 styleAxis(bb,GREY,2.5,35); bb.select(".domain").attr("stroke","#a01010");
 const bt=g.append("g").attr("transform",`translate(0,${p.b1})`).call(d3.axisTop(x).tickValues(rhoTicks).tickSize(-16).tickSizeOuter(0).tickFormat(""));
 styleAxis(bt,GREY,4,36);
 const zR=g.append("g").attr("transform",`translate(${p.x1},0)`).call(d3.axisRight(yz).tickValues(zTicks).tickSize(-8).tickSizeOuter(0).tickFormat(""));
 styleAxis(zR,"#0000ff",4,36); zR.select(".domain").remove();
 const zL=g.append("g").attr("transform",`translate(${p.x0},0)`).call(d3.axisLeft(yz).tickValues(zTicks).tickSize(-16).tickSizeOuter(0).tickPadding(9).tickFormat(d3.format("d")));
 styleAxis(zL,"#0000ff",4,36);
 const tR=g.append("g").attr("transform",`translate(${p.x1},0)`).call(d3.axisRight(yt).tickValues(tTicks).tickSize(-7).tickSizeOuter(0).tickPadding(11).tickFormat(d3.format("d")));
 styleAxis(tR,"#ff0000",4,36);
 rich(g,[{t:"z",i:1},{t:" (km)"}],{transform:`translate(${p.x0-40},${(p.b0+p.b1)/2-5}) rotate(-90)`,"text-anchor":"middle","font-size":38,fill:"#0000ff"});
 rich(g,[{t:"T",i:1},{t:"2m",i:1,dy:9,fs:27},{t:" (°C)",dy:0}],{transform:`translate(${p.x1+94},${(p.b0+p.b1)/2-6}) rotate(-90)`,"text-anchor":"middle","font-size":38,fill:"#ff0000"});
 rich(g,[{t:"2 m air density "},{t:"ρ",i:1},{t:"2m",i:1,dy:9,fs:28},{t:" (kg m",dy:0},{t:"-3",dy:-14,fs:28},{t:")",dy:0}],{x:(p.x0+p.x1)/2+3,y:p.b0+102,"text-anchor":"middle","font-size":37,fill:GREY});

 const dash="30,7,9,7";
 g.append("line").attr("x1",p.x0).attr("x2",p.cb0).attr("y1",y(50)).attr("y2",y(50)).attr("stroke","#000").attr("stroke-width",6).attr("stroke-dasharray",dash);
 g.append("line").attr("x1",p.vl[0]).attr("y1",p.vl[1]).attr("x2",p.vl[2]).attr("y2",p.vl[3]).attr("stroke","#000").attr("stroke-width",6).attr("stroke-dasharray",dash);
});

const leg=svg.append("g");
leg.append("rect").attr("x",850).attr("y",1167).attr("width",313).attr("height",203).attr("fill","#fff").attr("stroke","#000").attr("stroke-width",8);
const ttl=leg.append("text").attr("x",971).attr("y",1140).attr("font-family",SANS).attr("font-style","italic").attr("font-size",46).attr("fill","#111");
ttl.append("tspan").text("RH"); ttl.append("tspan").text("2m").attr("dy",13).attr("font-size",35);
const lx=[1048,1025,1050],ly=[1204,1270,1333],cx=[877,875,875];
legendEntries.forEach((e,i)=>{
 leg.append("circle").attr("cx",cx[i]).attr("cy",ly[i]).attr("r",e[1]).attr("fill","none").attr("stroke","#000").attr("stroke-width",1.8);
 leg.append("text").text(e[0]).attr("x",lx[i]).attr("y",ly[i]+15).attr("text-anchor","middle").attr("font-family",SANS).attr("font-size",39).attr("fill","#111");
});
</script></body></html>
